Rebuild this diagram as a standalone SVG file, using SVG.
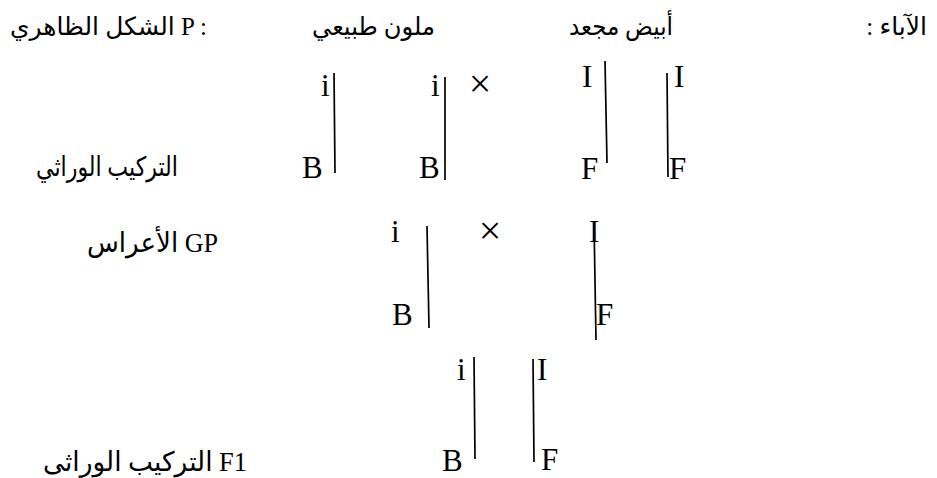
<svg xmlns="http://www.w3.org/2000/svg" width="937" height="478" viewBox="0 0 937 478">
<style>
text{font-family:"Liberation Serif","DejaVu Sans",serif;fill:#000}
.g{font-size:31px}
.h{font-size:25px}
.l{font-size:27px}
.x{font-size:40px}
line{stroke:#000;stroke-width:1.7}
</style>
<rect width="937" height="478" fill="#fff"/>
<g id="header">
<text class="h" x="207" y="35" text-anchor="end" textLength="197" lengthAdjust="spacingAndGlyphs">الشكل الظاهري P :</text>
<text class="h" x="435" y="35" text-anchor="end" textLength="123" lengthAdjust="spacingAndGlyphs">ملون طبيعي</text>
<text class="h" x="673" y="35" text-anchor="end" textLength="104" lengthAdjust="spacingAndGlyphs">أبيض مجعد</text>
<text class="h" x="927" y="35" text-anchor="end">: الآباء</text>
</g>
<g id="labels">
<text class="l" x="178" y="176" text-anchor="end" textLength="142" lengthAdjust="spacingAndGlyphs">التركيب الوراثي</text>
<text class="l" x="218" y="252" text-anchor="end" textLength="131" lengthAdjust="spacingAndGlyphs">الأعراس GP</text>
<text class="l" x="247" y="471" text-anchor="end" textLength="204" lengthAdjust="spacingAndGlyphs">التركيب الوراثى F1</text>
</g>
<g id="parent1">
<text class="g" x="321" y="96">i</text>
<text class="g" x="302" y="178">B</text>
<text class="g" x="431" y="96">i</text>
<text class="g" x="419" y="178">B</text>
</g>
<g id="cross1"><text class="x" x="480" y="97" text-anchor="middle">×</text></g>
<g id="parent2">
<text class="g" x="582" y="87">I</text>
<text class="g" x="581" y="179">F</text>
<text class="g" x="674" y="87">I</text>
<text class="g" x="669" y="179">F</text>
</g>
<g id="gamete1">
<text class="g" x="391" y="242">i</text>
<text class="g" x="392" y="325">B</text>
</g>
<g id="cross2"><text class="x" x="490" y="244" text-anchor="middle">×</text></g>
<g id="gamete2">
<text class="g" x="589" y="242">I</text>
<text class="g" x="596" y="325">F</text>
</g>
<g id="f1">
<text class="g" x="457" y="380">i</text>
<text class="g" x="442" y="471">B</text>
<text class="g" x="537" y="380">I</text>
<text class="g" x="541" y="470">F</text>
</g>
<g id="connectors">
<line x1="334" y1="73" x2="335" y2="173"/>
<line x1="445" y1="77" x2="445" y2="180"/>
<line x1="605" y1="61" x2="607" y2="163"/>
<line x1="667" y1="73" x2="668" y2="177"/>
<line x1="427" y1="226" x2="429" y2="328"/>
<line x1="594" y1="222" x2="596" y2="340"/>
<line x1="474" y1="357" x2="475" y2="459"/>
<line x1="533" y1="359" x2="534" y2="462"/>
</g>
</svg>
